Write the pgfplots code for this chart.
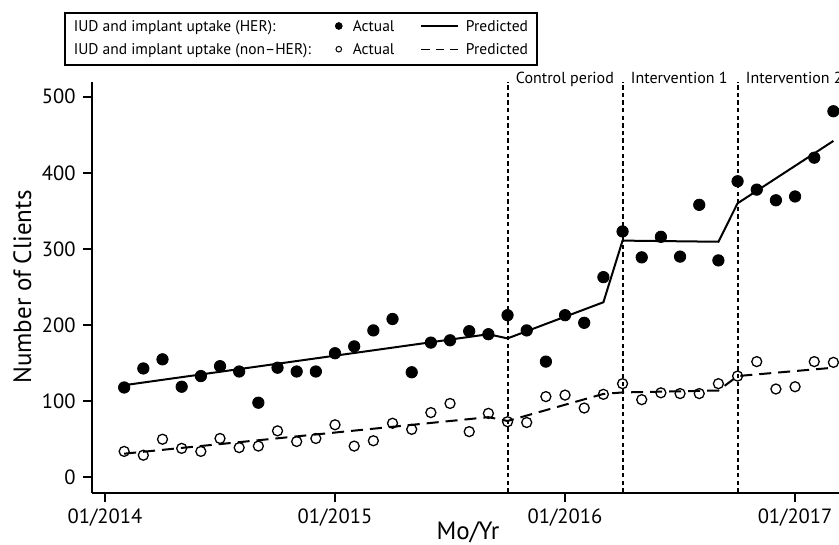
\documentclass[border=0pt]{standalone}
\usepackage{fontspec}
\setmainfont{PT Sans}
\usepackage{pgfplots}
\pgfplotsset{compat=1.18}
\begin{document}
\begin{tikzpicture}
\begin{axis}[
  at={(45.79pt,26.25pt)}, anchor=south west,
  scale only axis, width=380.5pt, height=205.47pt,
  xmin=-0.7, xmax=39, ymin=-20, ymax=520,
  clip=false,
  axis x line*=bottom, axis y line*=left,
  axis line style={-, line width=1pt, black},
  tick align=outside, major tick length=4.5pt,
  tick style={line width=1pt, black},
  xtick={0,12,24,36}, xticklabels={01/2014,01/2015,01/2016,01/2017},
  ytick={0,100,200,300,400,500}, yticklabels={0,100,200,300,400,500},
  ticklabel style={font=\fontsize{10.3}{12}\selectfont},
  xlabel={Mo/Yr},
  xlabel style={at={(axis description cs:0.4946,-0.1150)}, anchor=base, font=\fontsize{12.5}{15}\selectfont},
  ylabel={Number of Clients},
  ylabel style={at={(axis description cs:-0.0796,0.5)}, anchor=base, font=\fontsize{12.5}{15}\selectfont},
  legend columns=3,
  legend cell align=left,
  legend style={at={(-0.0362,1.1682)}, anchor=north west, draw=black, line width=0.75pt,
    inner xsep=4.5pt, inner ysep=3.6pt, column sep=0pt, row sep=4.4pt,
    font=\fontsize{7.75}{9}\selectfont,
    nodes={inner sep=0pt, text height=5.6pt, text depth=1.6pt}},
]
% vertical period lines
\addplot[black, line width=1pt, dash pattern=on 2.2pt off 1.6pt, forget plot] coordinates {(21,-20) (21,520)};
\addplot[black, line width=1pt, dash pattern=on 2.2pt off 1.6pt, forget plot] coordinates {(27,-20) (27,520)};
\addplot[black, line width=1pt, dash pattern=on 2.2pt off 1.6pt, forget plot] coordinates {(33,-20) (33,520)};
% HER actual
\addplot[only marks, mark=*, mark size=2.85pt, black, forget plot] coordinates {
(1,118) (2,143) (3,155) (4,119) (5,133) (6,146) (7,139) (8,98) (9,144) (10,139)
(11,139) (12,163) (13,172) (14,193) (15,208) (16,138) (17,177) (18,180) (19,192) (20,188)
(21,213) (22,193) (23,152) (24,213) (25,203) (26,263) (27,323) (28,289) (29,316) (30,290)
(31,358) (32,285) (33,389) (34,378) (35,364) (36,369) (37,420) (38,481)};
% non-HER actual
\addplot[only marks, mark=o, mark size=2.5pt, mark options={line width=0.65pt}, black, forget plot] coordinates {
(1,34) (2,29) (3,50) (4,38) (5,34) (6,51) (7,39) (8,41) (9,61) (10,47)
(11,51) (12,69) (13,41) (14,48) (15,71) (16,63) (17,85) (18,97) (19,60) (20,84)
(21,73) (22,72) (23,106) (24,108) (25,91) (26,109) (27,123) (28,102) (29,111) (30,110)
(31,110) (32,123) (33,133) (34,152) (35,116) (36,119) (37,152) (38,151)};
% HER predicted
\addplot[black, line width=1pt, forget plot] coordinates {
(1,121) (20,188) (21,182.5) (26,230) (27,311) (32,309.5) (33,360) (38,442)};
% non-HER predicted
\addplot[black, line width=1pt, dash pattern=on 6pt off 3.5pt, forget plot] coordinates {
(1,31) (20,79) (21,74) (26,109.5) (27,111.5) (32,114) (33,133) (38,144)};
% period labels
\node[anchor=base west, inner sep=0pt, xshift=4pt, font=\fontsize{8}{9.6}\selectfont] at (axis cs:21,517.7) {Control period};
\node[anchor=base west, inner sep=0pt, xshift=4pt, font=\fontsize{8}{9.6}\selectfont] at (axis cs:27,517.7) {Intervention 1};
\node[anchor=base west, inner sep=0pt, xshift=4pt, font=\fontsize{8}{9.6}\selectfont] at (axis cs:33,517.7) {Intervention 2};
% legend
\addlegendimage{legend image code/.code={}}
\addlegendentry{\makebox[129.5pt][l]{IUD and implant uptake (HER):}}
\addlegendimage{legend image code/.code={\path[draw=none,fill=none] (0pt,0pt) rectangle (7pt,0pt); \path[draw=none,fill=none, mark options={draw=black, fill=black, line width=0.4pt}, mark=*, mark size=1.7pt] plot coordinates {(3pt,0.8pt)};}}
\addlegendentry{\makebox[37pt][l]{\hspace{3pt}Actual}}
\addlegendimage{legend image code/.code={\draw[black, line width=0.6pt] (0pt,0.8pt) -- (18.5pt,0.8pt);}}
\addlegendentry{\hspace{3.5pt}Predicted}
\addlegendimage{legend image code/.code={}}
\addlegendentry{\makebox[129.5pt][l]{IUD and implant uptake (non–HER):}}
\addlegendimage{legend image code/.code={\path[draw=none,fill=none] (0pt,0pt) rectangle (7pt,0pt); \path[draw=none,fill=none, mark options={draw=black, fill=none, line width=0.5pt}, mark=o, mark size=1.4pt] plot coordinates {(3pt,0.8pt)};}}
\addlegendentry{\makebox[37pt][l]{\hspace{3pt}Actual}}
\addlegendimage{legend image code/.code={\draw[black, line width=0.6pt, dash pattern=on 4.1pt off 3.1pt] (0pt,0.8pt) -- (18.5pt,0.8pt);}}
\addlegendentry{\hspace{3.5pt}Predicted}
\end{axis}
\pgfresetboundingbox
\path[use as bounding box] (0,0) rectangle (419.5pt,272.5pt);
\end{tikzpicture}
\end{document}
